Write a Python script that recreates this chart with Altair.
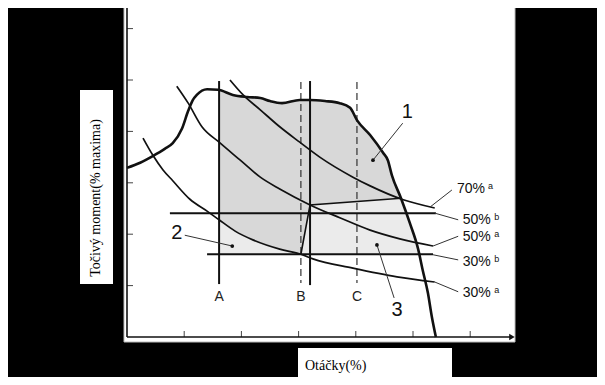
import altair as alt
import pandas as pd

# ---- data (x: speed units, y: torque units; one tick = 10) ----
fl_x = [0.0, 2.3, 4.5, 6.6, 8.0, 9.6, 10.7, 11.5, 12.2, 14.0, 15.9, 18.5, 21.0, 23.3, 25.0, 27.1,
        30.2, 32.0, 34.6, 37.2, 39.0, 40.2, 42.5, 44.8, 45.6, 46.3, 47.9, 49.5, 50.9, 51.7, 52.6, 53.3, 54.0]
fl_y = [32.9, 33.9, 35.2, 36.6, 37.7, 40.5, 44.0, 46.1, 47.1, 48.2, 48.1, 47.1, 46.7, 46.5, 45.9, 45.5,
        46.1, 46.1, 45.9, 45.5, 44.6, 42.2, 39.3, 35.8, 34.4, 31.5, 27.0, 22.0, 17.1, 13.0, 8.6, 3.9, 0.0]

c30a_x = [2.8, 4.5, 6.3, 8.0, 11.0, 14.0, 16.1, 18.9, 22.0, 26.7, 30.4, 32.5, 39.5, 47.2, 53.8]
c30a_y = [38.7, 35.4, 32.5, 30.4, 26.8, 24.5, 22.8, 20.6, 18.9, 17.1, 16.1, 15.2, 13.4, 11.7, 10.7]

c50a_x = [8.7, 10.7, 13.1, 16.1, 19.8, 23.3, 26.7, 32.0, 37.2, 42.5, 47.7, 53.5]
c50a_y = [48.8, 45.5, 40.9, 37.9, 34.4, 31.1, 28.8, 25.7, 23.2, 20.8, 19.1, 17.7]

c70a_x = [18.0, 20.3, 23.3, 26.7, 30.2, 33.7, 39.5, 42.5, 48.3, 53.8]
c70a_y = [50.0, 47.1, 44.2, 40.9, 37.9, 35.0, 31.1, 29.4, 26.7, 25.1]

bnd_x = [30.4, 32.0, 47.9]
bnd_y = [16.1, 25.7, 27.0]

r1_x = [16.1, 18.5, 21.0, 23.3, 25.0, 27.1, 30.2, 32.0, 34.6, 37.2, 39.0, 40.2, 42.5, 44.8, 45.6, 46.3,
        47.9, 32.0, 30.4, 26.7, 22.0, 18.9, 16.1]
r1_y = [48.1, 47.1, 46.7, 46.5, 45.9, 45.5, 46.1, 46.1, 45.9, 45.5, 44.6, 42.2, 39.3, 35.8, 34.4, 31.5,
        27.0, 25.7, 16.1, 17.1, 18.9, 20.6, 22.8]
r2_x = [16.1, 18.9, 22.0, 26.7, 30.4, 16.1]
r2_y = [22.8, 20.6, 18.9, 17.1, 16.1, 16.1]
r3_x = [30.4, 32.0, 47.9, 49.5, 50.9, 51.1]
r3_y = [16.1, 25.7, 27.0, 22.0, 17.1, 16.1]

vert_names = ["A", "B", "mid", "C"]
vert_x = [16.1, 30.4, 32.0, 40.2]
vert_top = [49.8, 49.6, 49.8, 49.6]
vert_bot = [10.3, 10.5, 10.1, 10.5]
vert_dashed = [False, True, False, True]

hor_names = ["50% b", "30% b"]
hor_y = [24.1, 16.1]
hor_x0 = [7.5, 14.0]
hor_x1 = [54.0, 53.5]

ptr_x0 = [53.0, 53.8, 53.5, 53.5, 53.8, 48.2, 10.1, 46.7]
ptr_y0 = [25.3, 24.1, 17.7, 16.0, 10.7, 41.6, 19.8, 7.6]
ptr_x1 = [56.8, 57.9, 57.9, 57.9, 57.9, 43.0, 18.4, 43.7]
ptr_y1 = [28.6, 22.8, 19.6, 15.0, 8.8, 34.4, 17.7, 17.9]

dot_x = [43.0, 18.4, 43.7]
dot_y = [34.4, 17.7, 17.9]

num_text = ["1", "2", "3"]
num_x = [49.0, 8.7, 47.2]
num_y = [43.8, 20.2, 5.3]

abc_text = ["A", "B", "C"]
abc_x = [16.1, 30.4, 40.2]
abc_y = [7.8, 7.8, 7.8]

pct_text = ["70%", "50%", "50%", "30%", "30%"]
pct_x = [57.7, 58.7, 58.7, 58.7, 58.7]
pct_y = [28.8, 22.8, 19.5, 14.6, 8.6]
sup_text = ["a", "b", "a", "b", "a"]
sup_x = [63.1, 64.2, 64.2, 64.2, 64.2]
sup_y = [29.3, 23.4, 20.1, 15.2, 9.2]

x_ticks = [10, 20, 30, 40, 50, 60]
y_ticks = [10, 20, 30, 40, 50, 60]
x_axis_end = 67.3
y_axis_end = 65.0

y_title = "Točivý moment(% maxima)"
x_title = "Otáčky(%)"

# ---- layout ----
W, H = 589, 369
OX, OY = 119, 329          # chart pixel of the origin
PX, PY = 5.72, 5.14        # pixels per unit
xs = alt.Scale(domain=[-OX / PX, (W - OX) / PX], nice=False, zero=False)
ys = alt.Scale(domain=[-(H - OY) / PY, OY / PY], nice=False, zero=False)

def X(f="x"):
    return alt.X(f + ":Q", scale=xs, axis=None)

def Y(f="y"):
    return alt.Y(f + ":Q", scale=ys, axis=None)

def df(**kw):
    d = pd.DataFrame(kw)
    d["i"] = range(len(d))
    return d

INK = "#111111"
SANS = "Liberation Sans"
SERIF = "Liberation Serif"

one = pd.DataFrame({"k": [0]})

panel = alt.Chart(one).mark_rect(fill="white", stroke="#bbbbbb", strokeWidth=1).encode(
    x=alt.value(116), x2=alt.value(507), y=alt.value(-8), y2=alt.value(334))
ybox = alt.Chart(one).mark_rect(fill="white").encode(
    x=alt.value(72), x2=alt.value(105), y=alt.value(82), y2=alt.value(276))
xbox = alt.Chart(one).mark_rect(fill="white").encode(
    x=alt.value(290), x2=alt.value(444), y=alt.value(340), y2=alt.value(375))
ytitle = alt.Chart(one).mark_text(text=y_title, font=SERIF, fontSize=14, angle=270,
                                  align="center", baseline="middle", color="black").encode(
    x=alt.value(88), y=alt.value(190))
xtitle = alt.Chart(one).mark_text(text=x_title, font=SERIF, fontSize=14,
                                  align="left", baseline="middle", color="black").encode(
    x=alt.value(297), y=alt.value(358))

def poly(xv, yv, color):
    return alt.Chart(df(x=xv, y=yv)).mark_line(
        interpolate="linear-closed", fill=color, strokeOpacity=0).encode(
        x=X(), y=Y(), order="i:Q")

r1 = poly(r1_x, r1_y, "#d8d8d8")
r2 = poly(r2_x, r2_y, "#ebebeb")
r3 = poly(r3_x, r3_y, "#ebebeb")

def curve(xv, yv, w):
    return alt.Chart(df(x=xv, y=yv)).mark_line(color=INK, strokeWidth=w, interpolate="monotone").encode(
        x=X(), y=Y(), order="i:Q")

fl = curve(fl_x, fl_y, 2.6)
c1 = curve(c30a_x, c30a_y, 1.7)
c2 = curve(c50a_x, c50a_y, 1.7)
c3 = curve(c70a_x, c70a_y, 1.7)
bnd = alt.Chart(df(x=bnd_x, y=bnd_y)).mark_line(color=INK, strokeWidth=1.6).encode(
    x=X(), y=Y(), order="i:Q")

vdf = pd.DataFrame({"name": vert_names, "x": vert_x, "y": vert_top, "y2": vert_bot, "d": vert_dashed})
vsolid = alt.Chart(vdf[~vdf["d"]]).mark_rule(color=INK, strokeWidth=2).encode(
    x=X(), y=Y(), y2="y2:Q")
vdash = alt.Chart(vdf[vdf["d"]]).mark_rule(color="#333333", strokeWidth=1.2, strokeDash=[7, 4]).encode(
    x=X(), y=Y(), y2="y2:Q")

hdf = pd.DataFrame({"name": hor_names, "y": hor_y, "x": hor_x0, "x2": hor_x1})
hor = alt.Chart(hdf).mark_rule(color=INK, strokeWidth=2).encode(x=X(), x2="x2:Q", y=Y())

pdf = pd.DataFrame({"x": ptr_x0, "y": ptr_y0, "x2": ptr_x1, "y2": ptr_y1})
ptr = alt.Chart(pdf).mark_rule(color="#333333", strokeWidth=1).encode(
    x=X(), y=Y(), x2="x2:Q", y2="y2:Q")
dots = alt.Chart(pd.DataFrame({"x": dot_x, "y": dot_y})).mark_circle(
    color=INK, size=14, opacity=1).encode(x=X(), y=Y())

nums = alt.Chart(pd.DataFrame({"x": num_x, "y": num_y, "t": num_text})).mark_text(
    font=SANS, fontSize=20, color=INK, align="center", baseline="middle").encode(
    x=X(), y=Y(), text="t:N")
abc = alt.Chart(pd.DataFrame({"x": abc_x, "y": abc_y, "t": abc_text})).mark_text(
    font=SANS, fontSize=14, color="#222222", align="center", baseline="middle").encode(
    x=X(), y=Y(), text="t:N")
pct = alt.Chart(pd.DataFrame({"x": pct_x, "y": pct_y, "t": pct_text})).mark_text(
    font=SANS, fontSize=14, color=INK, align="left", baseline="middle").encode(
    x=X(), y=Y(), text="t:N")
sup = alt.Chart(pd.DataFrame({"x": sup_x, "y": sup_y, "t": sup_text})).mark_text(
    font=SANS, fontSize=9, color=INK, align="left", baseline="middle").encode(
    x=X(), y=Y(), text="t:N")

# axes drawn as rules
yaxis = alt.Chart(pd.DataFrame({"x": [0.0], "y": [0.0], "y2": [y_axis_end]})).mark_rule(
    color=INK, strokeWidth=1.6).encode(x=X(), y=Y(), y2="y2:Q")
xaxis = alt.Chart(pd.DataFrame({"x": [0.0], "x2": [x_axis_end], "y": [0.0]})).mark_rule(
    color=INK, strokeWidth=1.6).encode(x=X(), x2="x2:Q", y=Y())
xarrow = alt.Chart(pd.DataFrame({"x": [x_axis_end], "y": [0.0]})).mark_point(
    shape="triangle-right", filled=True, color=INK, size=40, opacity=1).encode(x=X(), y=Y())
yarrow = alt.Chart(pd.DataFrame({"x": [0.0], "y": [y_axis_end]})).mark_point(
    shape="triangle-up", filled=True, color=INK, size=40, opacity=1).encode(x=X(), y=Y())
yt = alt.Chart(pd.DataFrame({"y": y_ticks})).mark_rule(color="#444444", strokeWidth=1).encode(
    x=alt.value(OX), x2=alt.value(OX + 6), y=Y())
xt = alt.Chart(pd.DataFrame({"x": x_ticks})).mark_rule(color="#444444", strokeWidth=1).encode(
    x=X(), y=alt.value(OY), y2=alt.value(OY - 6))

chart = alt.layer(
    panel, ybox, xbox, ytitle, xtitle,
    r1, r2, r3,
    yt, xt, yaxis, xaxis, xarrow, yarrow,
    vdash, vsolid, hor, c1, c2, c3, bnd, fl,
    ptr, dots, nums, abc, pct, sup,
).properties(
    width=W, height=H, padding=0, background="black",
    autosize=alt.AutoSizeParams(type="none"),
).configure_view(stroke=None)

chart.save("out.html", embed_options={"renderer": "svg", "actions": False})
